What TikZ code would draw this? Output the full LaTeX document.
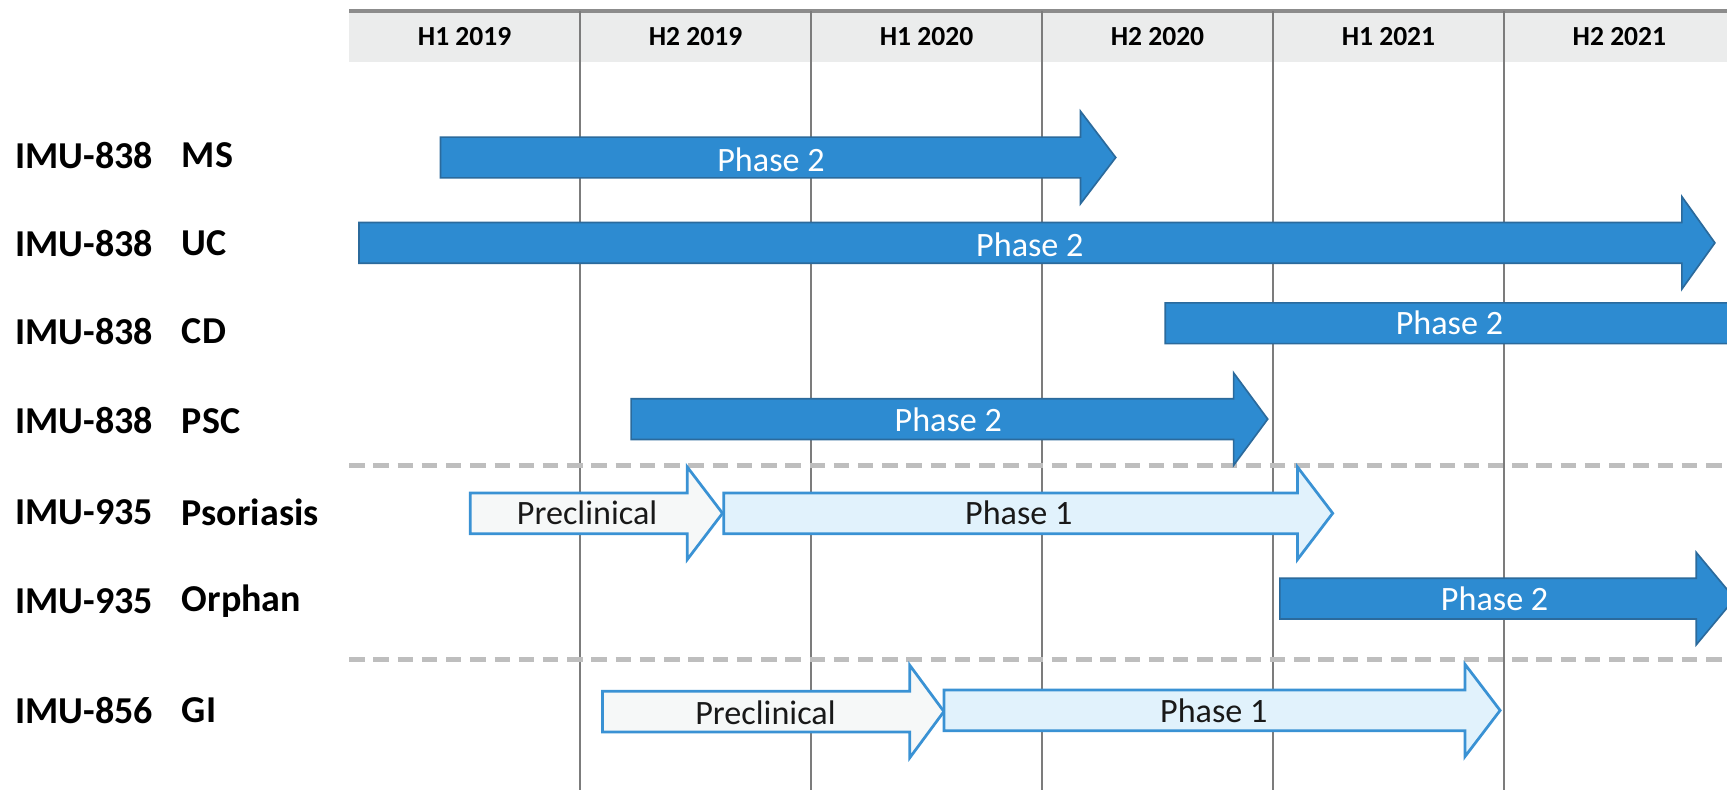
\documentclass[tikz,border=0pt]{standalone}
\usepackage{fontspec}
\setmainfont{Carlito}
\definecolor{dkfill}{HTML}{2D8BD1}
\definecolor{dkedge}{HTML}{2B6A9C}
\definecolor{ltedge}{HTML}{3A92D4}
\definecolor{prefill}{HTML}{F6F8F8}
\definecolor{pOnefill}{HTML}{E1F2FC}
\definecolor{hdrfill}{HTML}{EBECEC}
\definecolor{hdrline}{HTML}{8C8C8C}
\definecolor{gridc}{HTML}{7C7C7C}
\definecolor{dashc}{HTML}{BEBEBE}
\newcommand\phasearrow[5]{%
  \draw[#1] (#2,#5-18.5) -- (#3,#5-18.5) -- (#3,#5-42) -- (#4,#5) -- (#3,#5+42) -- (#3,#5+18.5) -- (#2,#5+18.5) -- cycle;}
\begin{document}
\begin{tikzpicture}[x=1pt,y=-1pt,
  hdr/.style={font=\fontsize{25}{30}\selectfont\bfseries, text=black, inner sep=0pt},
  lbl/.style={font=\fontsize{34.5}{40}\selectfont\bfseries, text=black, anchor=west, inner sep=0pt},
  darkarrow/.style={fill=dkfill, draw=dkedge, line width=1.5pt, line join=miter},
  prearrow/.style={fill=prefill, draw=ltedge, line width=2.5pt, line join=miter},
  oneArrow/.style={fill=pOnefill, draw=ltedge, line width=2.5pt, line join=miter},
  wtxt/.style={font=\fontsize{31}{36}\selectfont, text=white, inner sep=0pt},
  btxt/.style={font=\fontsize{31}{36}\selectfont, text=black!90, inner sep=0pt},
  gridline/.style={draw=gridc, line width=2pt},
  sepline/.style={draw=dashc, line width=4.5pt, dash pattern=on 14pt off 8pt}]
\useasboundingbox (0,0) rectangle (1568,717);
\fill[white] (0,0) rectangle (1568,717);
\clip (0,0) rectangle (1568,717);
% header band
\fill[hdrfill] (317,10) rectangle (1568,56);
\draw[hdrline, line width=3pt] (317,10) -- (1568,10);
% grid lines
\foreach \gx in {526.7,736.4,946.1,1155.8,1365.5}
  \draw[gridline] (\gx,10) -- (\gx,717);
% header labels
\node[hdr] (h1) at (421.8,33) {H1 2019};
\node[hdr] (h2) at (631.5,33) {H2 2019};
\node[hdr] (h3) at (841.2,33) {H1 2020};
\node[hdr] (h4) at (1050.9,33) {H2 2020};
\node[hdr] (h5) at (1260.6,33) {H1 2021};
\node[hdr] (h6) at (1470.3,33) {H2 2021};
% separators
\draw[sepline] (317,423) -- (1568,423);
\draw[sepline] (317,599) -- (1568,599);
% row labels
\node[lbl] (a1) at (14,141) {IMU-838}; \node[lbl] (b1) at (165,141) {MS};
\node[lbl] (a2) at (14,221) {IMU-838}; \node[lbl] (b2) at (165,221) {UC};
\node[lbl] (a3) at (14,301) {IMU-838}; \node[lbl] (b3) at (165,301) {CD};
\node[lbl] (a4) at (14,382) {IMU-838}; \node[lbl] (b4) at (165,382) {PSC};
\node[lbl] (a5) at (14,465) {IMU-935}; \node[lbl] (b5) at (165,465) {Psoriasis};
\node[lbl] (a6) at (14,546) {IMU-935}; \node[lbl] (b6) at (165,546) {Orphan};
\node[lbl] (a7) at (14,645) {IMU-856}; \node[lbl] (b7) at (165,645) {GI};
% arrows
\phasearrow{darkarrow}{400}{981}{1013}{143}
\node[wtxt] (t1) at (700,145) {Phase 2};
\phasearrow{darkarrow}{326}{1527}{1557}{220.5}
\node[wtxt] (t2) at (935,222) {Phase 2};
\phasearrow{darkarrow}{1058}{1620}{1650}{293.5}
\node[wtxt] (t3) at (1316,293) {Phase 2};
\phasearrow{darkarrow}{573}{1120}{1151}{380.5}
\node[wtxt] (t4) at (861,381) {Phase 2};
\phasearrow{prearrow}{427}{624}{656}{466}
\node[btxt] (t5) at (533,466) {Preclinical};
\phasearrow{oneArrow}{657}{1178}{1210}{466}
\node[btxt] (t6) at (925,466) {Phase 1};
\phasearrow{darkarrow}{1162}{1540}{1575}{543.5}
\node[wtxt] (t7) at (1357,544) {Phase 2};
\phasearrow{prearrow}{547}{826}{857}{646}
\node[btxt] (t8) at (695,647) {Preclinical};
\phasearrow{oneArrow}{857}{1330}{1362}{645}
\node[btxt] (t9) at (1102,645) {Phase 1};
\end{tikzpicture}
\end{document}
